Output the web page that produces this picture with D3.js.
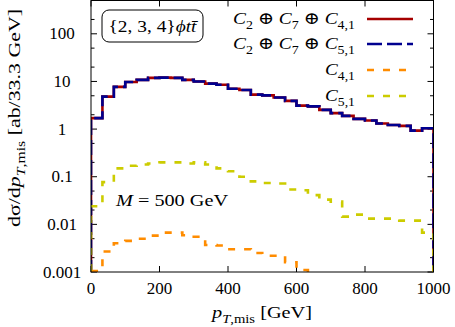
<!DOCTYPE html>
<html>
<head>
<meta charset="utf-8">
<script src="https://cdn.jsdelivr.net/npm/d3@7"></script>
<style>
  body { margin: 0; background: #fff; }
  svg { display: block; }
  text { font-family: "Liberation Serif", "DejaVu Serif", serif; fill: #000; }
</style>
</head>
<body>
<svg id="chart" width="455" height="327"></svg>
<script>
// pT,mis distribution, 30 bins of 33.3 GeV
const binWidth = 1000 / 30;

// C2 + C7 + C4,1 (red) and C2 + C7 + C5,1 (blue) - they sit on top of each other
const sumC41 = [1.7, 4.8, 7.7, 9.7, 10.8, 11.9, 12.0, 11.9, 10.8, 10.0,
                9.0, 8.5, 7.0, 6.6, 5.3, 5.1, 4.6, 3.9, 3.1, 3.0,
                2.53, 2.16, 1.89, 1.64, 1.51, 1.31, 1.22, 1.17, 0.93, 1.04];
const sumC51 = [1.7, 4.8, 7.7, 9.7, 10.8, 11.9, 12.0, 11.9, 10.8, 10.0,
                9.0, 8.5, 7.0, 6.6, 5.3, 5.1, 4.6, 3.9, 3.1, 3.0,
                2.53, 2.16, 1.89, 1.64, 1.51, 1.31, 1.22, 1.17, 0.93, 1.04];
// C4,1 alone (orange)
const onlyC41 = [0.00105, 0.0027, 0.004, 0.0045, 0.005, 0.0058, 0.0067, 0.0067, 0.0059, 0.0055,
                 0.0037, 0.0036, 0.003, 0.003, 0.0025, 0.0022, 0.0022, 0.0016, 0.0011, 0,
                 0, 0, 0, 0, 0, 0, 0, 0, 0, 0];
// C5,1 alone (yellow)
const onlyC51 = [0.024, 0.077, 0.15, 0.17, 0.18, 0.19, 0.2, 0.2, 0.19, 0.2,
                 0.18, 0.15, 0.13, 0.1, 0.08, 0.074, 0.072, 0.054, 0.052, 0.041,
                 0.033, 0.03, 0.0145, 0.016, 0.0132, 0.0132, 0.0132, 0.012, 0.012, 0.0067];

const xTicks = [0, 200, 400, 600, 800, 1000];
const yTicks = [0.001, 0.01, 0.1, 1, 10, 100];
const yTickLabels = ['0.001', '0.01', '0.1', '1', '10', '100'];

const svg = d3.select('#chart');
const pLeft = 91, pRight = 433.5, pTop = 0.5, pBottom = 272;

const x = d3.scaleLinear().domain([0, 1000]).range([pLeft, pRight]);
const y = d3.scaleLog().domain([0.001, 500]).range([pBottom, pTop]);
const yv = v => y(Math.max(v, 1e-6)); // zeros fall off the bottom

svg.append('clipPath').attr('id', 'plotclip')
  .append('rect').attr('x', pLeft).attr('y', pTop)
  .attr('width', pRight - pLeft).attr('height', pBottom - pTop);

// ---- ticks (inside, mirrored) ----
const tickG = svg.append('g').attr('stroke', '#000').attr('stroke-width', 1);
xTicks.forEach(t => {
  tickG.append('line').attr('x1', x(t)).attr('x2', x(t)).attr('y1', pBottom).attr('y2', pBottom - 6);
  tickG.append('line').attr('x1', x(t)).attr('x2', x(t)).attr('y1', pTop).attr('y2', pTop + 6);
});
yTicks.forEach(t => {
  tickG.append('line').attr('x1', pLeft).attr('x2', pLeft + 6).attr('y1', y(t)).attr('y2', y(t));
  tickG.append('line').attr('x1', pRight).attr('x2', pRight - 6).attr('y1', y(t)).attr('y2', y(t));
  [2, 5].forEach(m => {
    const v = t * m;
    if (v > 500) return;
    tickG.append('line').attr('x1', pLeft).attr('x2', pLeft + 3.5).attr('y1', y(v)).attr('y2', y(v));
    tickG.append('line').attr('x1', pRight).attr('x2', pRight - 3.5).attr('y1', y(v)).attr('y2', y(v));
  });
});

// tick labels
svg.selectAll('.xl').data(xTicks).join('text')
  .attr('x', d => x(d)).attr('y', 294)
  .attr('text-anchor', 'middle').attr('font-size', 17)
  .text(d => d);
svg.selectAll('.yl').data(yTicks).join('text')
  .attr('x', 62).attr('y', d => y(d) + 5.5)
  .attr('text-anchor', 'middle').attr('font-size', 17)
  .text((d, i) => yTickLabels[i]);

// ---- histograms ----
function histPoints(vals) {
  const pts = [[0, 1e-6]];
  vals.forEach((v, i) => pts.push([i * binWidth, v]));
  pts.push([1000, vals[vals.length - 1]]);
  pts.push([1000, 1e-6]);
  return pts;
}
const step = d3.line().x(d => x(d[0])).y(d => yv(d[1])).curve(d3.curveStepAfter);

const plot = svg.append('g').attr('clip-path', 'url(#plotclip)');
const series = [
  { vals: sumC41, color: '#a50000', dash: null, w: 2.6 },
  { vals: sumC51, color: '#00008f', dash: '15,5', w: 2.6 },
  { vals: onlyC41, color: '#ff8c00', dash: '7,9', w: 2.6 },
  { vals: onlyC51, color: '#cccc00', dash: '7,9', w: 2.6 }
];
series.forEach(s => {
  plot.append('path')
    .attr('d', step(histPoints(s.vals)))
    .attr('fill', 'none')
    .attr('stroke', s.color)
    .attr('stroke-width', s.w)
    .attr('stroke-dasharray', s.dash);
});

// frame
svg.append('rect').attr('x', pLeft).attr('y', pTop)
  .attr('width', pRight - pLeft).attr('height', pBottom - pTop)
  .attr('fill', 'none').attr('stroke', '#000').attr('stroke-width', 1);

// ---- math-ish text helper (Computer Modern is wider, so stretch to the measured width) ----
function mathText(g, parts, size, width) {
  let shift = 0;
  parts.forEach(p => {
    const target = p.sub ? size * 0.3 : 0;
    const ts = g.append('tspan').text(p.t)
      .attr('font-size', p.sub ? size * 0.72 : size)
      .attr('dy', target - shift);
    if (p.i) ts.attr('font-style', 'italic');
    shift = target;
  });
  if (width) g.attr('textLength', width).attr('lengthAdjust', 'spacingAndGlyphs');
  return g;
}

// legend
const legendRows = [
  { y: 19, series: 0, w: 122, parts: [{t:'C',i:1},{t:'2',sub:1},{t:' ⊕ '},{t:'C',i:1},{t:'7',sub:1},{t:' ⊕ '},{t:'C',i:1},{t:'4,1',sub:1}] },
  { y: 44, series: 1, w: 122, parts: [{t:'C',i:1},{t:'2',sub:1},{t:' ⊕ '},{t:'C',i:1},{t:'7',sub:1},{t:' ⊕ '},{t:'C',i:1},{t:'5,1',sub:1}] },
  { y: 70, series: 2, w: 30, parts: [{t:'C',i:1},{t:'4,1',sub:1}] },
  { y: 96, series: 3, w: 30, parts: [{t:'C',i:1},{t:'5,1',sub:1}] }
];
legendRows.forEach(r => {
  const s = series[r.series];
  svg.append('line').attr('x1', 367).attr('x2', 413).attr('y1', r.y).attr('y2', r.y)
    .attr('stroke', s.color).attr('stroke-width', s.w).attr('stroke-dasharray', s.dash);
  const t = svg.append('text').attr('x', 355).attr('y', r.y + 5).attr('text-anchor', 'end');
  mathText(t, r.parts, 17, r.w);
});

// process label box
svg.append('rect').attr('x', 102).attr('y', 10).attr('width', 101).attr('height', 32)
  .attr('rx', 7).attr('fill', '#fff').attr('stroke', '#000').attr('stroke-width', 1);
mathText(svg.append('text').attr('x', 152.5).attr('y', 32).attr('text-anchor', 'middle'),
  [{t:'{2, 3, 4}'},{t:'ϕtt̄',i:1}], 17, 88);

// mass label
mathText(svg.append('text').attr('x', 116).attr('y', 206),
  [{t:'M',i:1},{t:' = 500 GeV'}], 17, 112);

// axis titles
mathText(svg.append('text').attr('x', 262).attr('y', 318).attr('text-anchor', 'middle'),
  [{t:'p',i:1},{t:'T',i:1,sub:1},{t:',mis',sub:1},{t:' [GeV]'}], 17.5, 100);
mathText(svg.append('text').attr('transform', 'translate(20,118) rotate(-90)').attr('text-anchor', 'middle'),
  [{t:'dσ/d'},{t:'p',i:1},{t:'T',i:1,sub:1},{t:',mis',sub:1},{t:' [ab/33.3 GeV]'}], 17.5, 218);
</script>
</body>
</html>
